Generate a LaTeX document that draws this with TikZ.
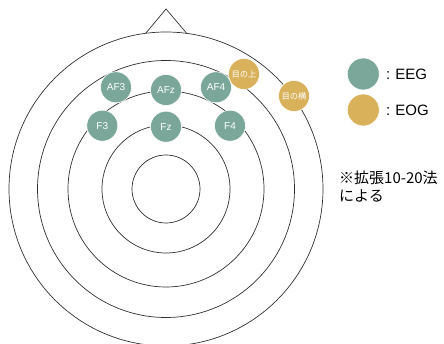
\documentclass[tikz,border=0pt]{standalone}
\usepackage{fontspec}
\setmainfont{Liberation Sans}
\newfontfamily\jpfont{Noto Sans CJK JP}
\definecolor{eeg}{RGB}{122,167,153}
\definecolor{eog}{RGB}{216,177,90}
\definecolor{ring}{RGB}{50,50,50}
\begin{document}
\begin{tikzpicture}[x=1pt,y=-1pt,
  ringline/.style={draw=ring,line width=0.7pt},
  elec/.style={circle,draw=white,line width=0.6pt,minimum size=31pt,inner sep=0pt,text=white,font=\fontsize{10}{10}\selectfont},
  eegnode/.style={elec,fill=eeg},
  eognode/.style={elec,fill=eog,font=\jpfont\fontsize{8.3}{8.3}\selectfont},
  legtext/.style={anchor=west,inner sep=0pt,font=\fontsize{15}{15}\selectfont}]
\useasboundingbox (0,0) rectangle (444,344);
\clip (0,0) rectangle (444,344);
\coordinate (c) at (166,189);
% nose
\coordinate (n1) at (145.7,33.3);
\coordinate (n2) at (166,9);
\coordinate (n3) at (186.7,33.3);
\draw[ringline] (n1) -- (n2) -- (n3);
% rings
\draw[ringline,fill=white] (c) circle (157);
\draw[ringline] (c) circle (128.5);
\draw[ringline] (c) circle (98);
\draw[ringline] (c) circle (64);
\draw[ringline] (c) circle (34);
% electrodes
\node[eegnode] (AF3) at (116,87.3) {AF3};
\node[eegnode] (AFz) at (166,90) {AFz};
\node[eegnode] (AF4) at (216,87.3) {AF4};
\node[eegnode] (F3) at (102.3,125.7) {F3};
\node[eegnode] (Fz) at (166,126.7) {Fz};
\node[eegnode] (F4) at (230,125.7) {F4};
\node[eognode] (up) at (244,74) {目の上};
\node[eognode] (side) at (294,96) {目の横};
% legend
\node[eegnode,minimum size=32pt] (legeeg) at (363.3,74) {};
\node[eognode,minimum size=32pt] (legeog) at (363.3,110) {};
\node[legtext] (teeg) at (386,74) {:\hspace{5pt}EEG};
\node[legtext] (teog) at (386,110) {:\hspace{5pt}EOG};
% note
\node[anchor=west,inner sep=0pt,align=left,font=\jpfont\fontsize{15}{18}\selectfont] (note) at (339,187) {※拡張10-20法\\による};
\end{tikzpicture}
\end{document}
